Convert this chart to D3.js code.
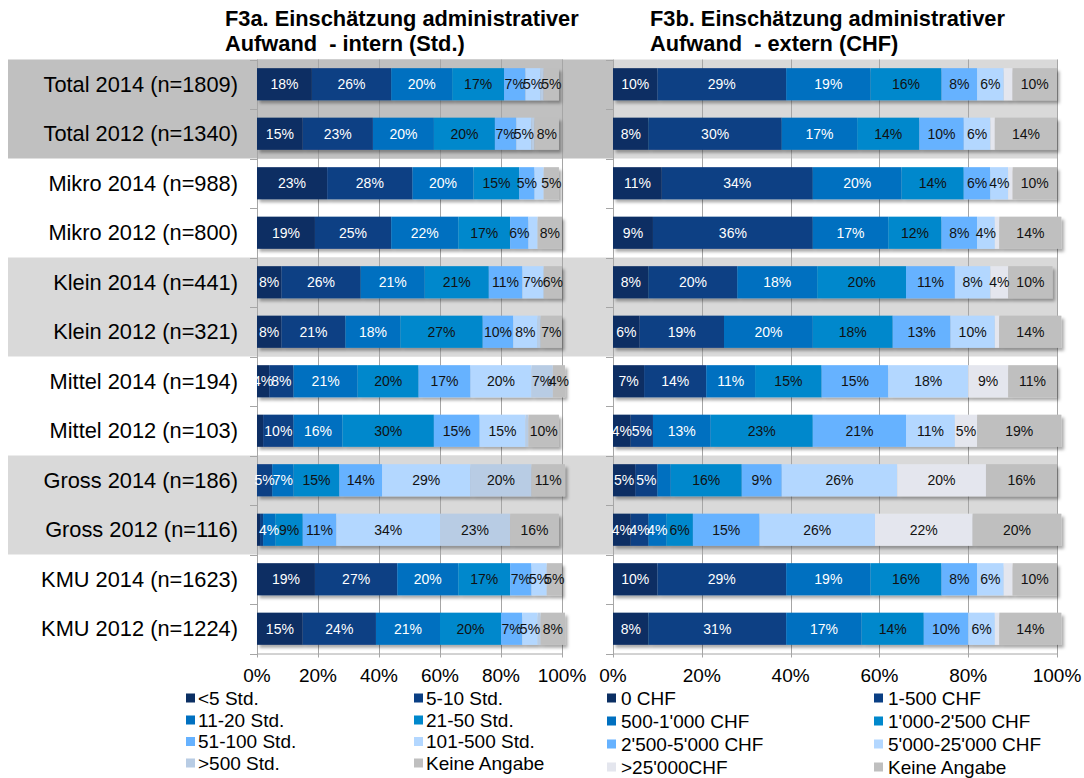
<!DOCTYPE html>
<html>
<head>
<meta charset="utf-8">
<script src="https://cdn.jsdelivr.net/npm/d3@7"></script>
<style>
  html, body { margin: 0; padding: 0; background: #fff; }
  svg { display: block; font-family: "Liberation Sans", Arial, sans-serif; }
  .title { white-space: pre; }
</style>
</head>
<body>
<svg id="chart" width="1084" height="778"></svg>
<script>
// ---------- DATA ----------
const categories = [
  "Total 2014 (n=1809)", "Total 2012 (n=1340)",
  "Mikro 2014 (n=988)", "Mikro 2012 (n=800)",
  "Klein 2014 (n=441)", "Klein 2012 (n=321)",
  "Mittel 2014 (n=194)", "Mittel 2012 (n=103)",
  "Gross 2014 (n=186)", "Gross 2012 (n=116)",
  "KMU 2014 (n=1623)", "KMU 2012 (n=1224)"
];

const titleIntern = ["F3a. Einschätzung administrativer", "Aufwand  - intern (Std.)"];
const titleExtern = ["F3b. Einschätzung administrativer", "Aufwand  - extern (CHF)"];

const seriesIntern = ["<5 Std.", "5-10 Std.", "11-20 Std.", "21-50 Std.", "51-100 Std.", "101-500 Std.", ">500 Std.", "Keine Angabe"];
const seriesExtern = ["0 CHF", "1-500 CHF", "500-1'000 CHF", "1'000-2'500 CHF", "2'500-5'000 CHF", "5'000-25'000 CHF", ">25'000CHF", "Keine Angabe"];

// intern (Std.) values in %, one array per series, rows in category order
const intLt5     = [18, 15, 23, 19,  8,  8,  4,  2,  0,  1, 19, 15];
const int5_10    = [26, 23, 28, 25, 26, 21,  8, 10,  5,  1, 27, 24];
const int11_20   = [20, 20, 20, 22, 21, 18, 21, 16,  7,  4, 20, 21];
const int21_50   = [17, 20, 15, 17, 21, 27, 20, 30, 15,  9, 17, 20];
const int51_100  = [ 7,  7,  5,  6, 11, 10, 17, 15, 14, 11,  7,  7];
const int101_500 = [ 5,  5,  3,  3,  7,  8, 20, 15, 29, 34,  5,  5];
const intGt500   = [ 1,  1,  0,  0,  0,  1,  7,  1, 20, 23,  0,  1];
const intKeine   = [ 5,  8,  5,  8,  6,  7,  4, 10, 11, 16,  5,  8];

// extern (CHF) values in %
const ext0       = [10,  8, 11,  9,  8,  6,  7,  4,  5,  4, 10,  8];
const ext1_500   = [29, 30, 34, 36, 20, 19, 14,  5,  5,  4, 29, 31];
const ext500_1k  = [19, 17, 20, 17, 18, 20, 11, 13,  3,  4, 19, 17];
const ext1k_2k5  = [16, 14, 14, 12, 20, 18, 15, 23, 16,  6, 16, 14];
const ext2k5_5k  = [ 8, 10,  6,  8, 11, 13, 15, 21,  9, 15,  8, 10];
const ext5k_25k  = [ 6,  6,  4,  4,  8, 10, 18, 11, 26, 26,  6,  6];
const extGt25k   = [ 2,  1,  1,  1,  4,  1,  9,  5, 20, 22,  2,  1];
const extKeine   = [10, 14, 10, 14, 10, 14, 11, 19, 16, 20, 10, 14];

const xTicks = [0, 20, 40, 60, 80, 100];
const xTickLabels = ["0%", "20%", "40%", "60%", "80%", "100%"];

const colorsIntern = ["#0b2f63", "#0a3f84", "#0070c0", "#0088cc", "#66b2ff", "#b3d7ff", "#b8cce4", "#bfbfbf"];
const colorsExtern = ["#0b2f63", "#0a3f84", "#0070c0", "#0088cc", "#66b2ff", "#b3d7ff", "#e4e6ee", "#bfbfbf"];
const labelColors  = ["#ffffff", "#ffffff", "#ffffff", "#111", "#111", "#111", "#111", "#111"];

const internSeriesValues = [intLt5, int5_10, int11_20, int21_50, int51_100, int101_500, intGt500, intKeine];
const externSeriesValues = [ext0, ext1_500, ext500_1k, ext1k_2k5, ext2k5_5k, ext5k_25k, extGt25k, extKeine];

// ---------- LAYOUT ----------
const svg = d3.select("#chart");
const plotTop = 59.5, plotBottom = 653.5;

const y = d3.scaleBand().domain(categories).range([plotTop, plotBottom]).paddingInner(0.35).paddingOuter(0.175);
const step = y.step();

const defs = svg.append("defs");
const f = defs.append("filter").attr("id", "shadow").attr("x", "-5%").attr("y", "-30%").attr("width", "115%").attr("height", "180%");
f.append("feDropShadow").attr("dx", 2.5).attr("dy", 3).attr("stdDeviation", 1.8)
  .attr("flood-color", "#000").attr("flood-opacity", 0.33);

function shadeOf(cat) {
  if (cat.startsWith("Total")) return "dark";
  if (cat.startsWith("Klein") || cat.startsWith("Gross")) return "light";
  return null;
}
const bandTop = i => plotTop + i * step;

// background bands – left side (labels + left plot), up to right plot axis
const leftBg = svg.append("g");
categories.forEach((c, i) => {
  const s = shadeOf(c);
  if (!s) return;
  leftBg.append("rect").attr("x", 8).attr("y", bandTop(i)).attr("width", 613 - 8).attr("height", step)
    .attr("fill", s === "dark" ? "#c0c0c0" : "#d9d9d9");
});

function drawPanel(x0, x1, seriesNames, seriesValues, colors, title, bandFill, cfg) {
  const x = d3.scaleLinear().domain([0, 100]).range([x0, x1]);
  const g = svg.append("g");

  // panel band backgrounds
  categories.forEach((c, i) => {
    const s = shadeOf(c);
    if (!s) return;
    g.append("rect").attr("x", x(0)).attr("y", bandTop(i)).attr("width", x(100) - x(0) + 1).attr("height", step)
      .attr("fill", bandFill(s));
  });

  // gridlines
  g.selectAll("line.grid").data(xTicks.filter(t => t > 0)).join("line")
    .attr("x1", d => Math.round(x(d)) + 0.5).attr("x2", d => Math.round(x(d)) + 0.5)
    .attr("y1", plotTop).attr("y2", plotBottom + 4)
    .attr("stroke", "#a6a6a6").attr("stroke-width", 1);
  // bottom axis line
  g.append("line").attr("x1", x(0)).attr("x2", x(100)).attr("y1", plotBottom + 0.5).attr("y2", plotBottom + 0.5)
    .attr("stroke", "#a6a6a6");
  // left axis line and ticks
  g.append("line").attr("x1", Math.round(x(0)) + 0.5).attr("x2", Math.round(x(0)) + 0.5).attr("y1", plotTop).attr("y2", plotBottom + 4)
    .attr("stroke", "#a6a6a6");
  g.selectAll("line.tick").data(d3.range(categories.length + 1)).join("line")
    .attr("x1", x(0) - 7).attr("x2", x(0)).attr("y1", d => Math.round(bandTop(d)) + 0.5).attr("y2", d => Math.round(bandTop(d)) + 0.5)
    .attr("stroke", "#a6a6a6");

  // stacked data
  const rows = categories.map((c, i) => {
    const o = { cat: c };
    seriesNames.forEach((s, k) => o[s] = seriesValues[k][i]);
    return o;
  });
  const stack = d3.stack().keys(seriesNames)(rows);

  const rowG = g.selectAll("g.row").data(categories).join("g").attr("filter", "url(#shadow)");
  rowG.each(function(cat, i) {
    const rg = d3.select(this);
    stack.forEach((layer, k) => {
      const d = layer[i];
      if (d[1] - d[0] <= 0) return;
      rg.append("rect").attr("x", x(d[0])).attr("y", y(cat)).attr("width", x(d[1]) - x(d[0])).attr("height", y.bandwidth())
        .attr("fill", colors[k]);
    });
  });

  // data labels
  const lg = g.append("g").attr("font-size", 14);
  categories.forEach((cat, i) => {
    stack.forEach((layer, k) => {
      const d = layer[i];
      const v = d[1] - d[0];
      if (v < 4) return;
      lg.append("text").attr("x", x((d[0] + d[1]) / 2)).attr("y", y(cat) + y.bandwidth() / 2)
        .attr("text-anchor", "middle").attr("dominant-baseline", "central")
        .attr("fill", labelColors[k]).text(v + "%");
    });
  });

  // x tick labels
  g.selectAll("text.xt").data(xTicks).join("text")
    .attr("x", d => x(d)).attr("y", 682).attr("text-anchor", "middle").attr("font-size", 19).attr("fill", "#000")
    .text((d, i) => xTickLabels[i]);

  // title
  const tt = svg.append("text").attr("class", "title").attr("font-weight", "bold").attr("font-size", 21.8).attr("fill", "#000");
  tt.append("tspan").attr("x", cfg.titleX).attr("y", 26).text(title[0]);
  tt.append("tspan").attr("x", cfg.titleX).attr("y", 51).text(title[1]);

  // legend
  const leg = svg.append("g").attr("font-size", 19);
  seriesNames.forEach((s, k) => {
    const col = k % 2, row = Math.floor(k / 2);
    const sx = cfg.cols[col], cy = cfg.rows[row];
    leg.append("rect").attr("x", sx).attr("y", cy - 4.5).attr("width", 9).attr("height", 9).attr("fill", colors[k]);
    leg.append("text").attr("x", sx + cfg.textDx).attr("y", cy).attr("dominant-baseline", "central").attr("fill", "#000").text(s);
  });
}

// category labels
svg.append("g").selectAll("text").data(categories).join("text")
  .attr("x", 238).attr("y", d => y(d) + y.bandwidth() / 2).attr("text-anchor", "end").attr("dominant-baseline", "central")
  .attr("font-size", 21.8).attr("fill", "#000").text(d => d);

drawPanel(257, 562, seriesIntern, internSeriesValues, colorsIntern, titleIntern,
  s => s === "dark" ? "#c0c0c0" : "#d9d9d9",
  { titleX: 225, cols: [186, 414], rows: [698, 720, 741.5, 763], textDx: 12 });

drawPanel(613, 1057, seriesExtern, externSeriesValues, colorsExtern, titleExtern,
  s => "#d9d9d9",
  { titleX: 650, cols: [607, 874], rows: [698, 721, 744, 767], textDx: 14 });
</script>
</body>
</html>
